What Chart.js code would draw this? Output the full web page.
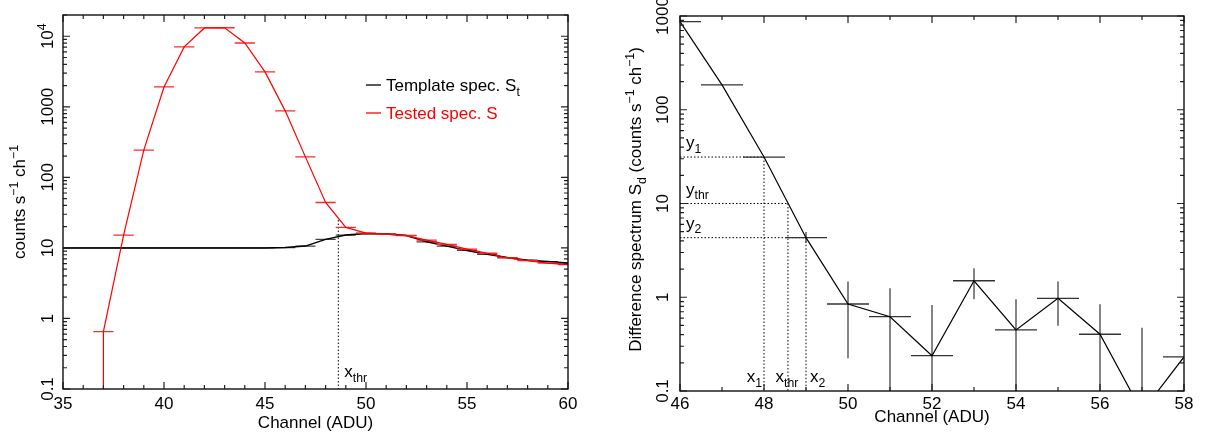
<!DOCTYPE html>
<html>
<head>
<meta charset="utf-8">
<script src="https://cdn.jsdelivr.net/npm/chart.js@4.4.0/dist/chart.umd.min.js"></script>
<style>
html, body { margin: 0; padding: 0; background: #fff; }
#wrap { position: relative; width: 1207px; height: 439px; }
canvas { position: absolute; top: 0; }
</style>
</head>
<body>
<div id="wrap">
  <canvas id="left" width="600" height="439" style="left:0"></canvas>
  <canvas id="right" width="607" height="439" style="left:600px"></canvas>
</div>
<script>
// ---- left panel: template and tested spectra ----
const testedChan = [37, 38, 39, 40, 41, 42, 43, 44, 45, 46, 47, 48, 49, 50, 51, 52, 53, 54, 55, 56, 57, 58, 59, 60]
const testedVal = [0.65, 15.2, 243, 1910, 7060, 13100, 13200, 8020, 3120, 875, 195, 44, 19.5, 16.2, 15.6, 14.9, 12.9, 11.2, 9.6, 8.4, 7.2, 6.6, 6.1, 5.8]
const testedDropTo = 0.01   // channel 36 is empty -> line falls off the log axis

const templateChan = [35, 36, 37, 38, 39, 40, 41, 42, 43, 44, 45, 46, 47, 48, 49, 50, 51, 52, 53, 54, 55, 56, 57, 58, 59, 60]
const templateVal = [10, 10, 10, 10, 10, 10, 10, 10, 10, 10, 10, 10.1, 10.6, 13.2, 15.2, 16.0, 15.8, 15.0, 12.2, 10.6, 9.2, 8.1, 7.3, 6.7, 6.4, 6.1]

const leftXThr = 48.63
const leftXThrTop = 26

const leftXTicks = [35, 40, 45, 50, 55, 60]
const leftYTicks = [0.1, 1, 10, 100, 1000, 10000]
const leftYTickLabels = ['0.1', '1', '10', '100', '1000', '10^4']

// ---- right panel: difference spectrum ----
const diffChan = [46, 47, 48, 49, 50, 51, 52, 53, 54, 55, 56, 57, 58]
const diffVal = [870, 184, 31.3, 4.32, 0.847, 0.62, 0.238, 1.50, 0.448, 0.975, 0.403, 0.06, 0.231]
const diffHi = [870, 184, 31.3, 4.97, 1.47, 1.25, 0.826, 2.04, 0.95, 1.47, 0.84, 0.473, 0.231]
const diffLo = [870, 184, 31.3, 3.79, 0.223, 0.01, 0.01, 0.95, 0.01, 0.498, 0.01, 0.01, 0.231]

const guideX = [48, 48.57, 49]
const guideY = [31.3, 10, 4.32]
const guideSub = ['1', 'thr', '2']

const rightXTicks = [46, 48, 50, 52, 54, 56, 58]
const rightYTicks = [0.1, 1, 10, 100, 1000]
const rightYTickLabels = ['0.1', '1', '10', '100', '1000']

const FONT = '"Liberation Sans", Arial, sans-serif'

// horizontal +-0.5 channel bars, separated by gaps
function hBars(xs, ys) {
    let out = []
    xs.forEach((x, i) => {
        out.push({x: x - 0.5, y: ys[i]}, {x: x + 0.5, y: ys[i]}, {x: x, y: null})
    })
    return out
}

function vBars(xs, lo, hi) {
    let out = []
    xs.forEach((x, i) => {
        out.push({x: x, y: lo[i]}, {x: x, y: hi[i]}, {x: x, y: null})
    })
    return out
}

function pts(xs, ys) {
    return xs.map((x, i) => ({x: x, y: ys[i]}))
}

// text with ^sup and _sub parts, e.g. 'x_thr' or '10^4'
function parseRich(s) {
    let parts = []
    let re = /([\^_])(\{[^}]*\}|.)/g
    let last = 0, m
    while ((m = re.exec(s))) {
        if (m.index > last) parts.push([s.slice(last, m.index), 0])
        let t = m[2].replace(/[{}]/g, '')
        parts.push([t, m[1] == '^' ? 1 : -1])
        last = re.lastIndex
    }
    if (last < s.length) parts.push([s.slice(last), 0])
    return parts
}

function richWidth(ctx, parts, size) {
    let w = 0
    for (let [t, m] of parts) {
        ctx.font = (m ? size * 0.72 : size) + 'px ' + FONT
        w += ctx.measureText(t).width
    }
    return w
}

function rich(ctx, s, x, y, size, color, align) {
    let parts = parseRich(s)
    ctx.save()
    ctx.fillStyle = color
    ctx.textBaseline = 'alphabetic'
    ctx.textAlign = 'left'
    let w = richWidth(ctx, parts, size)
    let cx = x
    if (align == 'center') cx = x - w / 2
    if (align == 'right') cx = x - w
    for (let [t, m] of parts) {
        ctx.font = (m ? size * 0.72 : size) + 'px ' + FONT
        let dy = m == 1 ? -size * 0.42 : m == -1 ? size * 0.28 : 0
        ctx.fillText(t, cx, y + dy)
        cx += ctx.measureText(t).width
    }
    ctx.restore()
}

function richUp(ctx, s, x, y, size, color) {
    ctx.save()
    ctx.translate(x, y)
    ctx.rotate(-Math.PI / 2)
    rich(ctx, s, 0, 0, size, color, 'center')
    ctx.restore()
}

// frame with inward ticks on all four sides
function drawFrame(chart, xMajor, xMinor) {
    const {ctx, chartArea: a} = chart
    const x = chart.scales.x, y = chart.scales.y
    ctx.save()
    ctx.strokeStyle = '#222'
    ctx.lineWidth = 1.2
    ctx.beginPath()
    for (let v = x.min; v <= x.max + 1e-9; v += xMinor) {
        let px = x.getPixelForValue(v)
        let major = Math.abs(v / xMajor - Math.round(v / xMajor)) < 1e-6
        let L = major ? 7 : 4
        ctx.moveTo(px, a.bottom); ctx.lineTo(px, a.bottom - L)
        ctx.moveTo(px, a.top); ctx.lineTo(px, a.top + L)
    }
    for (let e = Math.floor(Math.log10(y.min)); e <= Math.ceil(Math.log10(y.max)); e++) {
        for (let m = 1; m < 10; m++) {
            let v = m * Math.pow(10, e)
            if (v < y.min * 0.999 || v > y.max * 1.001) continue
            let py = y.getPixelForValue(v)
            let L = m == 1 ? 7 : 4
            ctx.moveTo(a.left, py); ctx.lineTo(a.left + L, py)
            ctx.moveTo(a.right, py); ctx.lineTo(a.right - L, py)
        }
    }
    ctx.stroke()
    ctx.lineWidth = 1.4
    ctx.strokeStyle = '#111'
    ctx.strokeRect(a.left, a.top, a.width, a.height)
    ctx.restore()
}

function drawTickLabels(chart, xTicks, yTicks, yLabels, xBase, yBase) {
    const {ctx} = chart
    const x = chart.scales.x, y = chart.scales.y
    xTicks.forEach(v => rich(ctx, String(v), x.getPixelForValue(v), xBase, 17, '#000', 'center'))
    yTicks.forEach((v, i) => richUp(ctx, yLabels[i], yBase, y.getPixelForValue(v), 17, '#000'))
}

const baseOptions = (pad, xmin, xmax, ymin, ymax) => ({
    responsive: false,
    animation: false,
    events: [],
    layout: {padding: pad},
    plugins: {legend: {display: false}, tooltip: {enabled: false}},
    scales: {
        x: {type: 'linear', display: false, min: xmin, max: xmax},
        y: {type: 'logarithmic', display: false, min: ymin, max: ymax}
    }
})

const line = (data, color, width, extra) => Object.assign({
    data: data, showLine: true, borderColor: color, borderWidth: width,
    pointRadius: 0, spanGaps: false, tension: 0
}, extra || {})

// ---------- left chart ----------
new Chart(document.getElementById('left'), {
    type: 'scatter',
    data: {
        datasets: [
            line([{x: testedChan[0], y: testedDropTo}].concat(pts(testedChan, testedVal)), '#ff0000', 1.2),
            line(hBars(testedChan, testedVal), '#ff2a2a', 1.3),
            line(pts(templateChan, templateVal), '#000', 1.5),
            line(hBars(templateChan, templateVal), '#444', 1.3),
            line([{x: leftXThr, y: 0.01}, {x: leftXThr, y: leftXThrTop}], '#000', 1, {borderDash: [1.5, 2]})
        ]
    },
    options: baseOptions({left: 63, right: 32, top: 15, bottom: 50}, 35, 60, 0.1, 20000),
    plugins: [{
        id: 'leftDeco',
        afterDraw(chart) {
            const {ctx, chartArea: a} = chart
            drawFrame(chart, 5, 1)
            drawTickLabels(chart, leftXTicks, leftYTicks, leftYTickLabels, 409, 53)
            rich(ctx, 'Channel (ADU)', (a.left + a.right) / 2, 428, 17, '#000', 'center')
            richUp(ctx, 'counts s^{−1} ch^{−1}', 25, (a.top + a.bottom) / 2, 17, '#000')
            let px = chart.scales.x.getPixelForValue(leftXThr)
            rich(ctx, 'x_{thr}', px + 6, 377, 17, '#000', 'left')
            // legend
            const ds = chart.data.datasets
            const items = [['Template spec. S_t', ds[2].borderColor, 85], ['Tested spec. S', ds[0].borderColor, 113]]
            ctx.save()
            for (let [t, c, yy] of items) {
                ctx.strokeStyle = c
                ctx.lineWidth = 1.3
                ctx.beginPath(); ctx.moveTo(366, yy); ctx.lineTo(381, yy); ctx.stroke()
                rich(ctx, t, 386, yy + 6, 17, c, 'left')
            }
            ctx.restore()
        }
    }]
})

// ---------- right chart ----------
let guideH = [], guideV = []
guideX.forEach((gx, i) => {
    guideH.push({x: 46, y: guideY[i]}, {x: gx, y: guideY[i]}, {x: gx, y: null})
    guideV.push({x: gx, y: guideY[i]}, {x: gx, y: 0.01}, {x: gx, y: null})
})

new Chart(document.getElementById('right'), {
    type: 'scatter',
    data: {
        datasets: [
            line(pts(diffChan, diffVal), '#000', 1.2),
            line(hBars(diffChan, diffVal), '#333', 1.3),
            line(vBars(diffChan, diffLo, diffHi), '#444', 1.3),
            line(guideH, '#000', 1, {borderDash: [1.5, 2]}),
            line(guideV, '#000', 1, {borderDash: [1.5, 2]})
        ]
    },
    options: baseOptions({left: 80, right: 23, top: 16, bottom: 48}, 46, 58, 0.1, 1000),
    plugins: [{
        id: 'rightDeco',
        afterDraw(chart) {
            const {ctx, chartArea: a} = chart
            drawFrame(chart, 2, 1)
            drawTickLabels(chart, rightXTicks, rightYTicks, rightYTickLabels, 409, 68)
            rich(ctx, 'Channel (ADU)', (a.left + a.right) / 2, 422, 17, '#000', 'center')
            richUp(ctx, 'Difference spectrum S_d (counts s^{−1} ch^{−1})', 41, (a.top + a.bottom) / 2 - 4, 17, '#000')
            const x = chart.scales.x, y = chart.scales.y
            guideX.forEach((gx, i) => {
                let py = y.getPixelForValue(guideY[i])
                rich(ctx, 'y_{' + guideSub[i] + '}', a.left + 6, py - 9, 17, '#000', 'left')
                let px = x.getPixelForValue(gx)
                let lab = 'x_{' + guideSub[i] + '}'
                if (i == 0) rich(ctx, lab, px - 2, 382, 17, '#000', 'right')
                else if (i == 1) rich(ctx, lab, px - 1, 382, 17, '#000', 'center')
                else rich(ctx, lab, px + 4, 382, 17, '#000', 'left')
            })
        }
    }]
})
</script>
</body>
</html>
